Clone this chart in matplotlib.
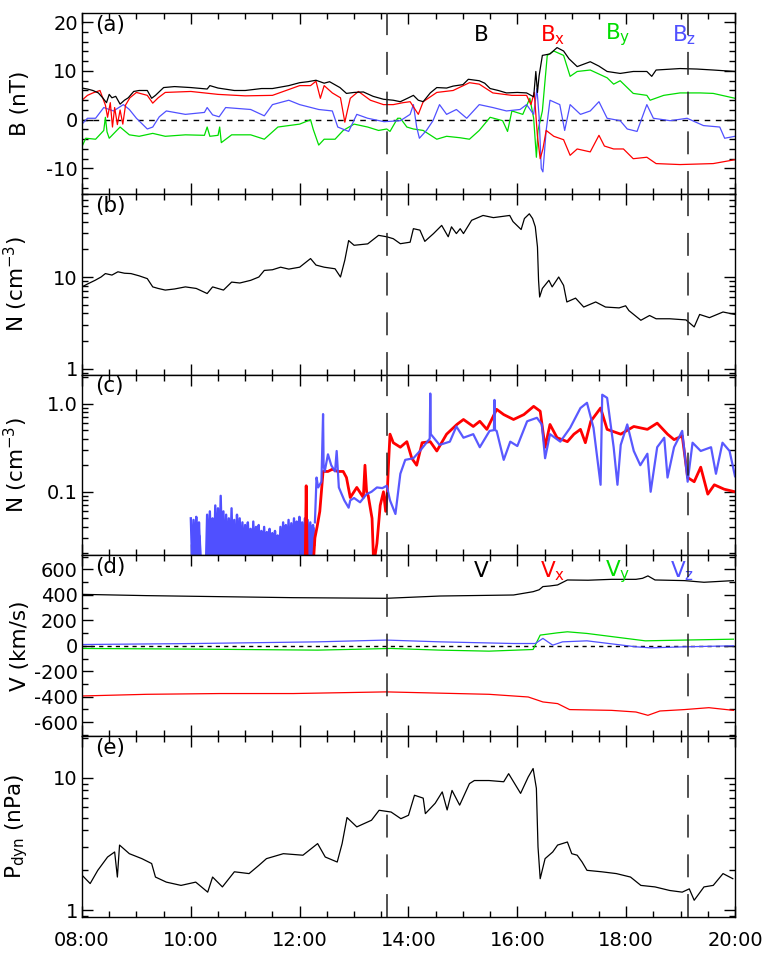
import numpy as np
import matplotlib
matplotlib.use("Agg")
import matplotlib.pyplot as plt
from matplotlib.ticker import MultipleLocator, FixedLocator, LogLocator, NullFormatter, FuncFormatter

plt.rcParams['font.family'] = ['DejaVu Sans']
plt.rcParams['mathtext.fontset'] = 'dejavusans'
plt.rcParams['axes.unicode_minus'] = False

RED = '#ff0000'
GREEN = '#00dd00'
BLUE = '#5050ff'

# ---------------- panel (a): magnetic field (nT) ----------------
t_B = [8.0, 8.1, 8.2, 8.3, 8.38, 8.45, 8.5, 8.55, 8.62, 8.7,
       8.78, 8.85, 8.95, 9.05, 9.2, 9.28, 9.35, 9.5, 9.7, 10.0,
       10.3, 10.35, 10.5, 10.8, 11.0, 11.3, 11.5, 11.8, 12.0, 12.15,
       12.3, 12.45, 12.55, 12.74, 12.86, 13.0, 13.17, 13.35, 13.54, 13.72,
       13.85, 14.0, 14.09, 14.18, 14.27, 14.4, 14.52, 14.7, 14.82, 15.0,
       15.1, 15.3, 15.4, 15.5, 15.65, 15.8, 16.0, 16.17, 16.3, 16.34,
       16.37, 16.4, 16.46, 16.6, 16.73, 16.85, 16.95, 17.1, 17.34, 17.5,
       17.65, 17.89, 18.13, 18.38, 18.47, 18.55, 18.99, 19.3, 19.6, 20.0]
B = [6.5, 6.3, 6.0, 5.5, 4.5, 3.5, 5.2, 4.5, 4.8, 3.2,
     4.0, 4.5, 5.8, 6.0, 6.0, 4.4, 5.0, 6.6, 6.8, 6.6,
     6.3, 7.0, 6.5, 6.0, 6.0, 6.4, 6.4, 7.0, 7.6, 7.8,
     8.1, 7.5, 7.8, 6.6, 5.4, 5.6, 5.7, 4.8, 4.2, 4.0,
     3.7, 4.5, 5.0, 4.0, 3.7, 5.5, 6.6, 6.5, 6.9, 7.2,
     8.3, 8.0, 7.5, 6.4, 6.0, 5.5, 5.6, 5.5, 4.7, 9.9,
     5.6, 9.0, 13.2, 13.5, 14.8, 14.1, 12.5, 10.9, 11.9, 11.0,
     9.9, 9.5, 9.9, 9.9, 8.9, 10.2, 10.5, 10.4, 10.2, 9.9]

t_Bx = [8.0, 8.1, 8.2, 8.33, 8.43, 8.47, 8.52, 8.56, 8.6, 8.65,
        8.7, 8.75, 8.8, 8.88, 9.0, 9.2, 9.3, 9.4, 9.53, 10.0,
        10.5, 11.0, 11.5, 12.0, 12.2, 12.3, 12.38, 12.45, 12.6, 12.75,
        12.83, 12.88, 12.93, 13.08, 13.3, 13.54, 13.72, 13.9, 14.03, 14.18,
        14.27, 14.52, 14.82, 15.12, 15.3, 15.55, 15.9, 16.17, 16.25, 16.31,
        16.37, 16.42, 16.47, 16.53, 16.67, 16.85, 16.97, 17.1, 17.34, 17.5,
        17.6, 17.77, 17.95, 18.13, 18.38, 18.55, 18.99, 19.6, 20.0]
Bx = [4.0, 5.0, 5.5, 6.0, 3.0, 0.5, 3.5, -1.5, 2.5, -1.0,
      2.0, -0.9, 3.0, 4.5, 5.6, 5.0, 3.4, 4.5, 5.6, 5.8,
      5.2, 4.9, 5.0, 7.0, 7.0, 7.9, 4.4, 7.0, 5.5, 4.5,
      -0.5, 2.0, 4.4, 5.8, 4.0, 3.1, 3.1, 3.5, 3.7, 1.1,
      3.7, 5.6, 6.0, 7.6, 7.3, 5.5, 5.0, 5.0, 3.1, 5.6,
      -3.4, -8.0, -6.0, -2.2, -3.4, -4.1, -7.3, -6.0, -6.6, -3.2,
      -5.4, -6.0, -6.0, -8.0, -7.7, -9.0, -9.2, -9.0, -8.2]

t_By = [8.0, 8.07, 8.25, 8.4, 8.43, 8.46, 8.5, 8.7, 8.87, 9.05,
        9.3, 9.53, 9.9, 10.25, 10.3, 10.35, 10.5, 10.53, 10.56, 10.75,
        11.1, 11.35, 11.6, 11.8, 12.0, 12.2, 12.25, 12.35, 12.45, 12.65,
        12.8, 13.0, 13.25, 13.45, 13.6, 13.66, 13.8, 13.85, 13.97, 14.09,
        14.27, 14.52, 14.7, 14.95, 15.12, 15.3, 15.5, 15.73, 15.82, 15.9,
        16.1, 16.23, 16.3, 16.35, 16.38, 16.46, 16.55, 16.67, 16.85, 16.97,
        17.1, 17.34, 17.65, 17.77, 17.89, 18.13, 18.38, 18.44, 18.69, 18.99,
        19.36, 19.6, 20.0]
By = [-5.5, -3.8, -4.0, -2.2, 0.5, -2.5, -3.8, -1.5, -3.1, -3.4,
      -2.8, -3.4, -3.1, -3.2, -1.5, -3.4, -3.2, -1.5, -4.7, -3.1,
      -3.1, -4.0, -1.5, -1.2, -0.9, 0.0, -2.0, -5.2, -4.0, -4.0,
      -2.2, -0.9, -1.5, -2.2, -1.9, -2.4, 0.3, 0.3, -1.5, -1.9,
      -2.2, -4.0, -3.4, -3.7, -4.0, -2.2, 0.5, -0.2, -2.4, 1.8,
      1.1, 4.4, 0.3, -7.7, -2.2, 1.8, 13.2, 14.1, 13.2, 8.9,
      9.9, 10.2, 8.6, 7.3, 8.0, 5.4, 5.0, 4.0, 5.0, 5.5,
      5.5, 5.4, 4.4]

t_Bz = [8.0, 8.1, 8.25, 8.4, 8.58, 8.76, 8.87, 9.0, 9.2, 9.3,
        9.42, 9.55, 9.9, 10.25, 10.3, 10.4, 10.52, 10.64, 11.1, 11.35,
        11.5, 11.8, 12.0, 12.35, 12.6, 12.7, 12.9, 13.05, 13.25, 13.55,
        13.85, 14.03, 14.09, 14.15, 14.2, 14.33, 14.45, 14.57, 14.7, 14.88,
        15.07, 15.3, 15.55, 15.8, 16.05, 16.17, 16.3, 16.36, 16.4, 16.44,
        16.47, 16.53, 16.6, 16.78, 16.87, 16.97, 17.16, 17.34, 17.5, 17.65,
        17.89, 18.02, 18.2, 18.38, 18.5, 18.81, 19.12, 19.42, 19.72, 19.81,
        20.0]
Bz = [-0.9, 0.3, 0.3, 2.5, 1.8, 3.1, 2.1, 0.3, -1.9, -1.5,
      0.6, 1.8, 1.1, 1.5, 2.5, 1.0, 0.6, 2.5, 2.1, 0.8,
      3.1, 4.0, 3.1, 2.1, 1.8, -1.5, -2.4, 1.1, 0.3, -0.4,
      -0.2, 1.1, 3.1, -1.5, -3.8, -2.2, -0.2, 3.1, 1.1, 2.1,
      0.3, 3.1, 2.5, 1.8, 2.1, 3.1, 1.1, 6.4, 0.6, -10.0,
      -10.7, -2.2, 4.0, 3.1, -2.2, 3.1, 1.1, 1.8, 3.7, 0.3,
      -0.2, -1.9, -2.4, 3.1, 0.3, -0.2, 0.3, -1.2, -1.5, -3.8,
      -3.4]

# ---------------- panel (b): solar wind density ----------------
t_N = [8.0, 8.12, 8.24, 8.35, 8.43, 8.55, 8.66, 8.78, 8.9, 9.05,
       9.2, 9.3, 9.4, 9.53, 9.7, 9.9, 10.1, 10.3, 10.4, 10.6,
       10.75, 10.9, 11.1, 11.25, 11.35, 11.5, 11.65, 11.8, 12.0, 12.2,
       12.3, 12.45, 12.65, 12.75, 12.83, 12.9, 13.0, 13.25, 13.45, 13.6,
       13.72, 13.85, 14.03, 14.09, 14.21, 14.3, 14.46, 14.61, 14.73, 14.79,
       14.88, 14.95, 15.01, 15.16, 15.37, 15.56, 15.86, 15.92, 16.07, 16.13,
       16.22, 16.28, 16.33, 16.37, 16.39, 16.41, 16.46, 16.58, 16.64, 16.76,
       16.85, 16.91, 17.07, 17.22, 17.44, 17.62, 17.87, 17.99, 18.05, 18.27,
       18.43, 18.55, 18.8, 19.1, 19.25, 19.35, 19.53, 19.78, 20.0]
N = [7.8, 8.5, 9.2, 10.0, 10.9, 10.5, 11.4, 11.0, 10.9, 10.3,
     9.6, 7.8, 7.5, 7.2, 7.4, 7.8, 7.5, 6.6, 7.8, 7.2,
     8.8, 8.6, 9.2, 10.0, 11.8, 12.0, 12.8, 12.2, 12.8, 15.9,
     13.5, 12.8, 12.3, 10.0, 15.3, 25.0, 22.2, 23.0, 28.5, 27.5,
     26.2, 23.1, 24.0, 33.7, 32.5, 24.5, 29.8, 36.6, 27.5, 35.3,
     29.8, 33.7, 29.8, 41.6, 47.0, 44.5, 47.0, 40.3, 33.0, 43.5,
     49.0, 43.5, 35.3, 21.3, 9.2, 6.05, 7.5, 9.2, 7.8, 10.0,
     8.1, 5.34, 5.88, 4.7, 5.34, 4.7, 4.6, 4.85, 4.3, 3.37,
     3.8, 3.5, 3.5, 3.4, 2.85, 3.9, 3.6, 4.15, 3.9]

# ---------------- panel (c): second density (red / blue) ----------------
# dense, spiky stretch of the blue curve (peaks and troughs as read)
Nc_blue_noise = [0.05, 0.015, 0.048, 0.02, 0.052, 0.013, 0.045, 0.018,
                 0.012, 0.012, 0.012, 0.012,
                 0.055, 0.014, 0.06, 0.02, 0.05, 0.013, 0.07, 0.018, 0.065, 0.015, 0.09, 0.02,
                 0.06, 0.014, 0.055, 0.02, 0.05, 0.015, 0.065, 0.017, 0.048, 0.013, 0.055, 0.02,
                 0.05, 0.015, 0.045, 0.018,
                 0.042, 0.014, 0.045, 0.02, 0.038, 0.013, 0.046, 0.018, 0.04, 0.015,
                 0.042, 0.02, 0.036, 0.014, 0.04, 0.017, 0.035, 0.013, 0.038, 0.02,
                 0.034, 0.015, 0.036, 0.02, 0.032, 0.014, 0.04, 0.018, 0.045, 0.015,
                 0.042, 0.02, 0.048, 0.016, 0.044, 0.02,
                 0.05, 0.015, 0.046, 0.022, 0.052, 0.016, 0.045, 0.02, 0.05, 0.018,
                 0.048, 0.022, 0.045, 0.02, 0.042, 0.025]
# solid lower body of that stretch (read as an envelope, same sampling)
Nc_blue_body = [0.036, 0.036, 0.034, 0.036, 0.036, 0.032, 0.034, 0.032,
                0.012, 0.012, 0.012, 0.012,
                0.036, 0.038, 0.04, 0.041, 0.039, 0.04, 0.042, 0.041, 0.041, 0.04, 0.042, 0.04,
                0.04, 0.039, 0.04, 0.038, 0.039, 0.038, 0.04, 0.038, 0.037, 0.036, 0.037, 0.037,
                0.036, 0.035, 0.036, 0.034,
                0.034, 0.033, 0.034, 0.033, 0.032, 0.032, 0.033, 0.032, 0.032, 0.031,
                0.032, 0.031, 0.031, 0.03, 0.031, 0.03, 0.03, 0.03, 0.031, 0.031,
                0.03, 0.031, 0.031, 0.032, 0.032, 0.033, 0.034, 0.034, 0.035, 0.035,
                0.036, 0.036, 0.037, 0.037, 0.037, 0.037,
                0.038, 0.038, 0.038, 0.039, 0.039, 0.039, 0.039, 0.039, 0.04, 0.04,
                0.04, 0.04, 0.04, 0.04, 0.04, 0.04]
noise_start, noise_end = 10.0, 12.27

t_Nc_blue = [12.28, 12.31, 12.34, 12.4, 12.43, 12.44, 12.46, 12.52, 12.58, 12.65,
             12.68, 12.72, 12.82, 12.9, 12.93, 13.0, 13.11, 13.23, 13.32, 13.42,
             13.52, 13.6, 13.66, 13.76, 13.85, 13.94, 14.09, 14.21, 14.33, 14.39,
             14.4, 14.41, 14.57, 14.76, 14.88, 15.01, 15.19, 15.31, 15.49, 15.57,
             15.58, 15.59, 15.62, 15.75, 15.87, 16.0, 16.18, 16.36, 16.45, 16.51,
             16.6, 16.79, 16.97, 17.16, 17.28, 17.4, 17.53, 17.56, 17.65, 17.77,
             17.84, 17.9, 18.02, 18.14, 18.26, 18.39, 18.45, 18.57, 18.7, 18.76,
             18.88, 19.03, 19.13, 19.22, 19.37, 19.56, 19.65, 19.77, 19.9, 20.0]
Nc_blue = [0.045, 0.145, 0.112, 0.13, 0.76, 0.2, 0.17, 0.266, 0.2, 0.17,
           0.29, 0.112, 0.08, 0.066, 0.08, 0.085, 0.076, 0.094, 0.1, 0.112,
           0.11, 0.117, 0.08, 0.056, 0.16, 0.23, 0.24, 0.29, 0.36, 0.4,
           1.3, 0.45, 0.34, 0.37, 0.55, 0.41, 0.45, 0.32, 0.49, 0.5,
           1.1, 0.5, 0.49, 0.23, 0.37, 0.33, 0.63, 0.69, 0.58, 0.24,
           0.45, 0.37, 0.53, 0.89, 1.02, 0.53, 0.12, 1.26, 1.16, 0.32,
           0.12, 0.34, 0.58, 0.29, 0.2, 0.27, 0.1, 0.32, 0.41, 0.145,
           0.32, 0.49, 0.13, 0.36, 0.29, 0.32, 0.16, 0.36, 0.29, 0.15]

t_Nc_red = [12.1, 12.12, 12.14, 12.2, 12.25, 12.28, 12.32, 12.37, 12.43, 12.52,
            12.6, 12.7, 12.8, 12.86, 12.93, 13.05, 13.17, 13.2, 13.23, 13.26,
            13.33, 13.36, 13.42, 13.48, 13.54, 13.58, 13.61, 13.63, 13.66, 13.72,
            13.85, 13.97, 14.06, 14.15, 14.25, 14.4, 14.52, 14.7, 14.89, 15.01,
            15.19, 15.31, 15.44, 15.62, 15.75, 15.93, 16.12, 16.3, 16.42, 16.51,
            16.6, 16.73, 16.92, 17.04, 17.16, 17.25, 17.35, 17.53, 17.65, 17.9,
            18.14, 18.39, 18.57, 18.76, 18.88, 19.03, 19.13, 19.25, 19.37, 19.5,
            19.62, 19.8, 20.0]
Nc_red = [0.012, 0.117, 0.012, 0.012, 0.015, 0.03, 0.04, 0.06, 0.17, 0.17,
          0.18, 0.17, 0.17, 0.145, 0.086, 0.112, 0.086, 0.2, 0.1, 0.09,
          0.05, 0.015, 0.026, 0.07, 0.1, 0.06, 0.1, 0.19, 0.45, 0.36,
          0.32, 0.37, 0.24, 0.2, 0.36, 0.37, 0.29, 0.45, 0.58, 0.66,
          0.55, 0.63, 0.51, 0.86, 0.75, 0.66, 0.75, 0.93, 0.82, 0.32,
          0.58, 0.41, 0.37, 0.45, 0.51, 0.36, 0.63, 0.89, 0.51, 0.45,
          0.55, 0.51, 0.6, 0.45, 0.39, 0.43, 0.145, 0.13, 0.19, 0.094,
          0.12, 0.107, 0.1]

# ---------------- panel (d): velocity (km/s) ----------------
t_V = [8.0, 9.19, 10.53, 11.88, 13.59, 14.58, 15.93, 16.29, 16.4, 16.47, 16.6,
       16.74, 16.92, 17.3, 17.73, 18.18, 18.3, 18.4, 18.53, 19.07, 19.43, 19.97]
V = [404, 394, 386, 378, 373, 391, 399, 425, 440, 465, 470,
     478, 517, 515, 522, 522, 530, 549, 517, 512, 499, 512]
t_Vx = [8.0, 9.19, 10.53, 11.88, 13.59, 15.48, 16.2, 16.47, 16.74, 16.96,
        17.73, 18.18, 18.4, 18.62, 19.07, 19.52, 19.97]
Vx = [-394, -381, -375, -375, -362, -381, -402, -441, -454, -501,
      -507, -520, -546, -512, -501, -486, -507]
t_Vy = [8.0, 10.09, 12.33, 13.68, 14.58, 15.48, 16.29, 16.42, 16.74, 16.92,
        17.28, 18.0, 18.35, 19.07, 19.97]
Vy = [-21, -26, -34, -21, -34, -42, -29, 84, 102, 110, 97, 58, 39, 45, 52]
t_Vz = [8.0, 10.09, 12.33, 13.59, 14.58, 15.93, 16.33, 16.47, 16.65, 16.83,
        17.28, 18.18, 18.45, 19.07, 19.97]
Vz = [10, 18, 31, 45, 31, 18, 18, 58, 5, 31, 39, -8, -16, -8, 0]

# ---------------- panel (e): dynamic pressure (nPa) ----------------
t_P = [8.0, 8.15, 8.29, 8.47, 8.6, 8.65, 8.69, 8.87, 9.1, 9.28,
       9.35, 9.55, 9.82, 10.09, 10.31, 10.4, 10.58, 10.8, 11.07, 11.25,
       11.39, 11.7, 12.06, 12.33, 12.47, 12.69, 12.78, 12.87, 13.05, 13.32,
       13.46, 13.68, 13.86, 14.0, 14.11, 14.27, 14.31, 14.49, 14.62, 14.71,
       14.8, 14.94, 15.12, 15.21, 15.48, 15.75, 15.84, 16.06, 16.2, 16.29,
       16.35, 16.38, 16.42, 16.51, 16.65, 16.74, 16.92, 17.0, 17.1, 17.19,
       17.28, 17.55, 17.82, 18.08, 18.27, 18.53, 18.8, 19.03, 19.16, 19.25,
       19.43, 19.6, 19.78, 19.96]
P = [1.84, 1.59, 2.0, 2.52, 2.75, 1.78, 3.1, 2.67, 2.45, 2.25,
     1.78, 1.63, 1.54, 1.63, 1.37, 1.78, 1.5, 1.95, 1.89, 2.18,
     2.45, 2.67, 2.6, 3.18, 2.52, 2.31, 3.18, 5.0, 4.25, 4.77,
     5.67, 5.5, 4.9, 5.2, 7.36, 7.0, 5.35, 6.4, 7.8, 5.7,
     8.0, 6.2, 9.0, 9.5, 9.5, 9.3, 10.7, 7.6, 10.1, 11.7,
     8.3, 3.0, 1.73, 2.45, 2.75, 3.1, 3.27, 2.67, 2.6, 2.31,
     2.0, 1.95, 1.89, 1.78, 1.54, 1.5, 1.41, 1.37, 1.45, 1.19,
     1.5, 1.54, 1.89, 1.73]

boundaries = [13.6, 19.13]          # vertical dashed lines (hours)
xtick_labels = ['08:00', '10:00', '12:00', '14:00', '16:00', '18:00', '20:00']
xticks = [8, 10, 12, 14, 16, 18, 20]

# ---------------- figure ----------------
W, H = 766, 955
fig = plt.figure(figsize=(W / 100, H / 100), dpi=100)
left, right = 82, 735
top0, ph = 13, 180.8
axes = []
for i in range(5):
    top = top0 + i * ph
    ax = fig.add_axes([left / W, 1 - (top + ph) / H, (right - left) / W, ph / H])
    axes.append(ax)

FS = 14          # tick labels
FL = 15.5        # axis labels / annotations
for ax in axes:
    ax.set_xlim(8, 20)
    ax.xaxis.set_major_locator(FixedLocator(xticks))
    ax.xaxis.set_minor_locator(MultipleLocator(0.5))
    ax.tick_params(which='both', direction='in', top=True, right=True, width=1.0, labelsize=FS)
    ax.tick_params(which='major', length=8)
    ax.tick_params(which='minor', length=4)
    ax.tick_params(axis='y', pad=3)
    for s in ax.spines.values():
        s.set_linewidth(1.0)
    for b in boundaries:
        ax.axvline(b, color='#222222', lw=1.1, dashes=(15, 11), zorder=5)
for ax in axes[:-1]:
    ax.tick_params(labelbottom=False)
axes[-1].set_xticklabels(xtick_labels)
axes[-1].tick_params(axis='x', pad=10)

lw = 0.9
# (a)
ax = axes[0]
ax.axhline(0, color='black', lw=1.0, dashes=(4, 4))
ax.plot(t_By, By, color=GREEN, lw=lw)
ax.plot(t_Bz, Bz, color=BLUE, lw=lw)
ax.plot(t_Bx, Bx, color=RED, lw=lw)
ax.plot(t_B, B, color='black', lw=lw)
ax.set_ylim(-15.2, 21.9)
ax.yaxis.set_major_locator(FixedLocator([-10, 0, 10, 20]))
ax.yaxis.set_minor_locator(MultipleLocator(2))
ax.set_ylabel('B (nT)', fontsize=FL)
for x, s, c in [(15.2, 'B', 'black'), (16.42, r'B$_\mathregular{x}$', RED),
                (17.62, r'B$_\mathregular{y}$', GREEN), (18.85, r'B$_\mathregular{z}$', BLUE)]:
    ax.text(x, 17.4, s, color=c, fontsize=FL, ha='left', va='center')

# (b)
ax = axes[1]
ax.plot(t_N, N, color='black', lw=lw)
ax.set_yscale('log')
ax.set_ylim(0.86, 81)
ax.set_ylabel('N (cm$^{\\mathregular{-3}}$)', fontsize=FL)

# (c)
ax = axes[2]
t_noise = np.linspace(noise_start, noise_end, len(Nc_blue_noise))
ax.fill_between(t_noise, 0.001, Nc_blue_body, color=BLUE, lw=0)
ax.plot(t_noise, Nc_blue_noise, color=BLUE, lw=1.7)
ax.plot(t_Nc_red, Nc_red, color=RED, lw=2.0)
ax.plot(t_Nc_blue, Nc_blue, color=BLUE, lw=1.6, alpha=0.95)
ax.set_yscale('log')
ax.set_ylim(0.019, 2.13)
ax.set_ylabel('N (cm$^{\\mathregular{-3}}$)', fontsize=FL)

# (d)
ax = axes[3]
ax.axhline(0, color='black', lw=1.0, dashes=(3, 3))
ax.plot(t_Vy, Vy, color=GREEN, lw=lw)
ax.plot(t_Vz, Vz, color=BLUE, lw=lw)
ax.plot(t_Vx, Vx, color=RED, lw=lw)
ax.plot(t_V, V, color='black', lw=lw)
ax.set_ylim(-710, 710)
ax.yaxis.set_major_locator(MultipleLocator(200))
ax.yaxis.set_minor_locator(MultipleLocator(100))
ax.set_ylabel('V (km/s)', fontsize=FL)
for x, s, c in [(15.2, 'V', 'black'), (16.42, r'V$_\mathregular{x}$', RED),
                (17.62, r'V$_\mathregular{y}$', GREEN), (18.8, r'V$_\mathregular{z}$', BLUE)]:
    ax.text(x, 585, s, color=c, fontsize=FL, ha='left', va='center')

# (e)
ax = axes[4]
ax.plot(t_P, P, color='black', lw=lw)
ax.set_yscale('log')
ax.set_ylim(0.89, 20.5)
ax.set_ylabel('P$_{\\mathregular{dyn}}$ (nPa)', fontsize=FL)

for ax in [axes[1], axes[2], axes[4]]:
    ax.yaxis.set_major_locator(LogLocator(base=10, numticks=10))
    ax.yaxis.set_minor_locator(LogLocator(base=10, subs=np.arange(2, 10), numticks=20))
    ax.yaxis.set_minor_formatter(NullFormatter())
axes[1].yaxis.set_major_formatter(FuncFormatter(lambda v, p: '%g' % v))
axes[2].yaxis.set_major_formatter(FuncFormatter(lambda v, p: '%.1f' % v))
axes[4].yaxis.set_major_formatter(FuncFormatter(lambda v, p: '%g' % v))

for ax, lab in zip(axes, ['(a)', '(b)', '(c)', '(d)', '(e)']):
    ax.text(0.02, 0.935, lab, transform=ax.transAxes, fontsize=FL, ha='left', va='center')
    ax.yaxis.set_label_coords(-0.08, 0.5)

fig.savefig('out.png', dpi=100)
